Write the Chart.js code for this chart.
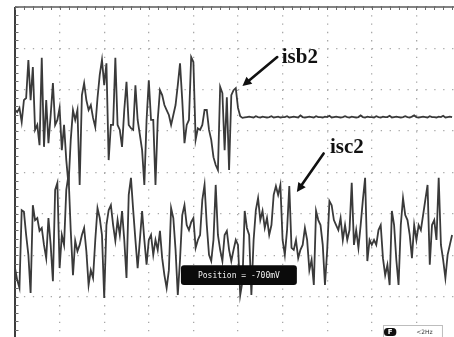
<!DOCTYPE html>
<html>
<head>
<meta charset="utf-8">
<style>
  html, body { margin: 0; padding: 0; background: #fff; overflow: hidden; width: 454px; height: 337px; }
  #wrap { position: absolute; left: 0; top: 0; width: 470px; height: 345px; }
</style>
<script src="https://cdn.jsdelivr.net/npm/chart.js@4.4.1/dist/chart.umd.min.js"></script>
</head>
<body>
<div id="wrap"><canvas id="scope" width="470" height="345"></canvas></div>
<script>
// Acquisition: one sample every 2.5 ms, 50 ms per horizontal division, 8 vertical divisions
const SAMPLE_MS = 2.5;
const MS_PER_DIV = 50;
const DIVS_X = 10;
const DIVS_Y = 8;

// Channel isb2 (divisions above screen centre)
const isb2 = [
  1.51, 1.46, 1.56, 1.22, 1.75, 1.80, 2.72, 1.75, 2.55, 1.03,
  1.15, 0.66, 2.77, 0.62, 1.75, 0.71, 1.39, 2.16, 1.15, 1.27,
  1.56, 0.54, 1.15, 0.30, -0.30, 0.79, 1.51, 1.27, 1.51, -0.30,
  1.87, 2.16, 1.75, 1.51, 1.63, 1.32, 1.10, 1.80, 2.36, 2.72,
  2.11, 2.64, 0.30, 1.15, 1.15, 2.77, 1.15, 1.03, 0.62, 1.51,
  2.19, 1.15, 1.07, 1.03, 2.11, 1.27, 0.91, 0.54, -0.30, 1.27,
  2.23, 1.27, 1.27, -0.30, 1.27, 1.99, 1.87, 1.63, 1.51, 1.39,
  1.15, 1.39, 1.63, 2.11, 2.64, 1.75, 0.71, 1.15, 1.27, 2.79,
  2.67, 0.79, 1.07, 1.03, 1.15, 1.51, 1.51, 1.03, 0.79, 0.37,
  0.18, 0.06, 2.07, 1.92, 0.54, 1.82, 0.06, 1.87, 1.99, 2.04,
  1.56, 1.36, 1.32,
  1.33, 1.34, 1.35, 1.34, 1.33, 1.36, 1.34, 1.33, 1.35, 1.34, 1.33, 1.34, 1.36, 1.33, 1.34, 1.35, 1.33, 1.34, 1.34, 1.36,
  1.33, 1.34, 1.35, 1.34, 1.33, 1.38, 1.34, 1.33, 1.34, 1.35, 1.34, 1.33, 1.36, 1.34, 1.34, 1.33, 1.35, 1.34, 1.37, 1.33,
  1.34, 1.35, 1.34, 1.33, 1.34, 1.36, 1.34, 1.33, 1.35, 1.34, 1.33, 1.34, 1.38, 1.34, 1.33, 1.35, 1.34, 1.34, 1.33, 1.36,
  1.34, 1.33, 1.35, 1.34, 1.34, 1.37, 1.33, 1.34, 1.35, 1.34, 1.33, 1.34, 1.36, 1.34, 1.33, 1.35, 1.38, 1.34, 1.33, 1.34,
  1.35, 1.34, 1.33, 1.36, 1.34, 1.34, 1.33, 1.35, 1.34, 1.37, 1.33, 1.34, 1.35, 1.34
];

// Channel isc2 (divisions above screen centre)
const isc2 = [
  -2.31, -2.60, -2.79, -0.91, -0.95, -1.51, -1.99, -2.91, -0.79, -1.15,
  -1.10, -1.41, -1.34, -1.75, -2.07, -1.10, -1.75, -2.63, -0.42, -0.25,
  -2.31, -1.51, -1.75, -0.42, -0.06, -1.41, -2.48, -1.65, -1.90, -1.75,
  -1.51, -1.34, -1.90, -2.72, -2.36, -2.55, -1.63, -0.86, -1.10, -1.51,
  -3.03, -1.27, -0.91, -0.79, -1.27, -1.65, -1.15, -1.51, -0.93, -1.63,
  -2.55, -0.54, -0.13, -0.91, -1.63, -2.31, -1.63, -0.93, -1.63, -2.23,
  -1.63, -1.51, -1.99, -1.63, -1.87, -1.41, -2.07, -2.48, -2.79, -2.36,
  -0.86, -1.10, -1.87, -2.96, -2.11, -1.03, -0.79, -1.27, -1.39, -1.20,
  -1.10, -1.82, -1.63, -1.51, -0.66, -0.30, -1.27, -1.99, -2.14, -1.63,
  -0.30, -1.51, -1.87, -2.14, -1.51, -1.41, -1.87, -2.14, -1.87, -1.63,
  -1.75, -2.96, -2.63, -0.93, -1.34, -1.51, -2.96, -1.63, -0.91, -0.62,
  -1.15, -0.93, -1.34, -1.10, -1.51, -1.27, -0.54, -0.33, -0.54, -0.30,
  -1.63, -1.99, -1.39, -0.33, -1.82, -1.87, -1.63, -2.07, -1.87, -1.75,
  -1.34, -1.63, -2.36, -2.11, -2.72, -0.93, -1.15, -1.27, -1.75, -2.72,
  -1.87, -0.69, -0.79, -1.15, -1.27, -1.39, -1.10, -1.63, -1.27, -1.63,
  -1.39, -0.25, -1.75, -1.39, -1.82, -1.27, -0.66, -0.13, -2.14, -1.63,
  -1.75, -1.63, -1.75, -1.39, -1.27, -2.07, -2.48, -2.23, -2.72, -0.93,
  -1.27, -2.11, -2.72, -1.27, -0.62, -1.03, -1.15, -1.51, -2.07, -1.27,
  -1.63, -1.27, -1.39, -1.03, -0.66, -0.30, -2.23, -1.27, -1.15, -1.63,
  -0.13, -1.75, -2.11, -2.55, -1.99, -1.75, -1.51
];

const traceNames = ['isb2', 'isc2'];
const positionReadout = 'Position = -700mV';
const filterReadout = '<2Hz';

// Trace label placement in (ms, div): label corner, arrow tail, arrow tip
const callouts = [
  { text: traceNames[0], label: [299, 2.65], tail: [294, 2.79], tip: [255, 2.09] },
  { text: traceNames[1], label: [353, 0.47], tail: [346, 0.46], tip: [316, -0.47] }
];

const toPoints = vals => vals.map((v, i) => ({ x: i * SAMPLE_MS, y: v }));

function arrow(ctx, x0, y0, x1, y1) {
  const ang = Math.atan2(y1 - y0, x1 - x0);
  const head = 9, half = 4.5;
  const bx = x1 - head * Math.cos(ang), by = y1 - head * Math.sin(ang);
  ctx.beginPath();
  ctx.moveTo(x0, y0);
  ctx.lineTo(bx, by);
  ctx.stroke();
  ctx.beginPath();
  ctx.moveTo(x1, y1);
  ctx.lineTo(bx + half * Math.sin(ang), by - half * Math.cos(ang));
  ctx.lineTo(bx - half * Math.sin(ang), by + half * Math.cos(ang));
  ctx.closePath();
  ctx.fill();
}

function roundRect(ctx, x, y, w, h, r) {
  ctx.beginPath();
  ctx.moveTo(x + r, y);
  ctx.lineTo(x + w - r, y);
  ctx.quadraticCurveTo(x + w, y, x + w, y + r);
  ctx.lineTo(x + w, y + h - r);
  ctx.quadraticCurveTo(x + w, y + h, x + w - r, y + h);
  ctx.lineTo(x + r, y + h);
  ctx.quadraticCurveTo(x, y + h, x, y + h - r);
  ctx.lineTo(x, y + r);
  ctx.quadraticCurveTo(x, y, x + r, y);
  ctx.closePath();
}

const scopeScreen = {
  id: 'scopeScreen',
  beforeDatasetsDraw(chart) {
    const { ctx, chartArea: a, scales: { x, y } } = chart;
    ctx.save();
    // screen frame on the left and top edges
    ctx.strokeStyle = '#3e3e3e';
    ctx.lineWidth = 2;
    ctx.beginPath(); ctx.moveTo(a.left, a.top); ctx.lineTo(a.left, a.bottom); ctx.stroke();
    ctx.strokeStyle = '#5a5a5a';
    ctx.lineWidth = 1.5;
    ctx.beginPath(); ctx.moveTo(a.left, a.top); ctx.lineTo(a.right, a.top); ctx.stroke();
    // minor graticule ticks, five per division
    ctx.strokeStyle = '#6a6a6a';
    ctx.lineWidth = 1;
    ctx.beginPath();
    for (let k = 0; k <= DIVS_Y * 5; k++) {
      const py = Math.round(y.getPixelForValue(-DIVS_Y / 2 + k / 5)) + 0.5;
      ctx.moveTo(a.left, py); ctx.lineTo(a.left + 3.5, py);
    }
    for (let k = 0; k <= DIVS_X * 5; k++) {
      const px = Math.round(x.getPixelForValue(k * MS_PER_DIV / 5)) + 0.5;
      ctx.moveTo(px, a.top); ctx.lineTo(px, a.top + 3);
    }
    ctx.stroke();
    ctx.restore();
  },
  afterDatasetsDraw(chart) {
    const { ctx, scales: { x, y } } = chart;
    const P = ([t, v]) => [x.getPixelForValue(t), y.getPixelForValue(v)];
    ctx.save();
    // trace labels with pointer arrows
    ctx.fillStyle = '#111';
    ctx.strokeStyle = '#111';
    ctx.lineWidth = 2.6;
    ctx.lineCap = 'round';
    ctx.font = 'bold 21px "Liberation Serif", "Times New Roman", serif';
    ctx.textBaseline = 'alphabetic';
    ctx.textAlign = 'left';
    callouts.forEach(c => {
      const [lx, ly] = P(c.label);
      ctx.fillText(c.text, lx, ly);
      const [x0, y0] = P(c.tail);
      const [x1, y1] = P(c.tip);
      arrow(ctx, x0, y0, x1, y1);
    });

    // offset readout box
    const [bx0, by0] = P([186, -2.24]);
    const [bx1, by1] = P([316, -2.72]);
    ctx.fillStyle = '#0b0b0b';
    roundRect(ctx, bx0, by0, bx1 - bx0, by1 - by0, 3);
    ctx.fill();
    ctx.fillStyle = '#f2f2f2';
    ctx.font = '8px "DejaVu Sans Mono", monospace';
    ctx.textAlign = 'center';
    ctx.textBaseline = 'middle';
    ctx.fillText(positionReadout, (bx0 + bx1) / 2, (by0 + by1) / 2 + 0.5);

    // bandwidth filter indicator
    const [fx0, fy0] = P([412.6, -3.69]);
    const [fx1, fy1] = P([478.7, -4.3]);
    ctx.fillStyle = '#fff';
    ctx.fillRect(fx0, fy0, fx1 - fx0, fy1 - fy0);
    ctx.strokeStyle = '#bdbdbd';
    ctx.lineWidth = 1;
    ctx.strokeRect(Math.round(fx0) + 0.5, Math.round(fy0) + 0.5, fx1 - fx0, fy1 - fy0);
    const [px0, py0] = P([413.7, -3.76]);
    const [px1, py1] = P([427.5, -3.95]);
    ctx.fillStyle = '#111';
    roundRect(ctx, px0, py0, px1 - px0, py1 - py0, 3.5);
    ctx.fill();
    ctx.fillStyle = '#fff';
    ctx.font = 'bold 7px "DejaVu Sans", sans-serif';
    ctx.fillText('F', (px0 + px1) / 2, (py0 + py1) / 2 + 0.5);
    ctx.fillStyle = '#333';
    ctx.font = '6px "DejaVu Sans", sans-serif';
    const [tx, ty] = P([459, -3.86]);
    ctx.fillText(filterReadout, tx, ty);
    ctx.restore();
  }
};

const traceStyle = {
  borderColor: '#3a3a3a',
  borderWidth: 1.8,
  pointRadius: 0,
  tension: 0,
  fill: false
};

new Chart(document.getElementById('scope'), {
  type: 'line',
  data: {
    datasets: [
      Object.assign({ label: traceNames[0], data: toPoints(isb2) }, traceStyle),
      Object.assign({ label: traceNames[1], data: toPoints(isc2) }, traceStyle)
    ]
  },
  options: {
    responsive: false,
    animation: false,
    events: [],
    layout: { padding: { left: 15, top: 7, right: 9, bottom: 7 } },
    plugins: { legend: { display: false }, tooltip: { enabled: false } },
    scales: {
      x: {
        type: 'linear',
        min: 0,
        max: DIVS_X * MS_PER_DIV,
        ticks: { display: false, stepSize: MS_PER_DIV },
        grid: { color: '#a8a8a8', lineWidth: 1.3, drawTicks: false },
        border: { display: false, dash: [1.3, 6.98] }
      },
      y: {
        min: -DIVS_Y / 2,
        max: DIVS_Y / 2,
        ticks: { display: false, stepSize: 1 },
        grid: { color: '#a8a8a8', lineWidth: 1.3, drawTicks: false },
        border: { display: false, dash: [1.3, 7.62] }
      }
    }
  },
  plugins: [scopeScreen]
});
</script>
</body>
</html>
